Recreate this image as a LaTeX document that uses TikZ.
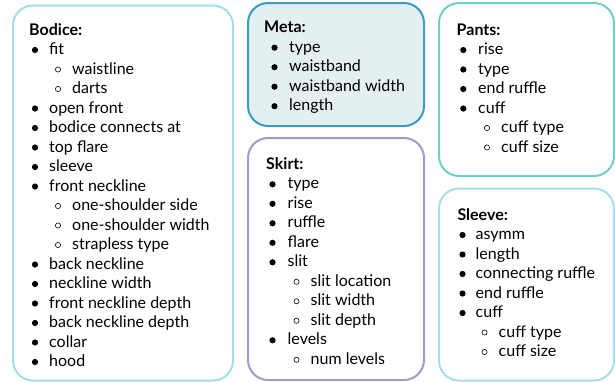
\documentclass[tikz,border=0pt]{standalone}
\usepackage{fontspec}
\setmainfont{Lato}
\definecolor{bodiceC}{HTML}{A2DEE9}
\definecolor{metaC}{HTML}{3A9DC1}
\definecolor{metaF}{HTML}{E3EFF1}
\definecolor{skirtC}{HTML}{A19BD0}
\definecolor{pantsC}{HTML}{70D0C3}
\definecolor{sleeveC}{HTML}{A4DFEA}
\tikzset{
  panel/.style={draw, line width=2pt, rounded corners=20pt, anchor=north west, inner sep=0pt},
  itemtxt/.style={anchor=base west, inner sep=0pt, font=\fontsize{16}{19}\selectfont},
  titletxt/.style={anchor=base west, inner sep=0pt, font=\fontsize{16}{19}\selectfont\bfseries},
  dotfull/.style={fill=black},
  dotopen/.style={draw=black, line width=0.6pt},
}
% #1 prefix, #2 title x, #3 title centre y, #4 bullet x, #5 text x, #6 title, #7 items (level/text)
\newcommand\panellist[7]{%
  \node[titletxt] (#1-t) at (#2,#3+4.5) {#6};
  \foreach \lev/\txt [count=\i] in {#7} {
    \pgfmathsetmacro\yy{#3+19.5*\i}
    \ifnum\lev=1
      \fill[dotfull] (#4,\yy) circle (3.1pt);
      \node[itemtxt] (#1-\i) at (#5,\yy+4.5) {\txt};
    \else
      \draw[dotopen] (#5+9,\yy) circle (2.6pt);
      \node[itemtxt] (#1-\i) at (#5+23,\yy+4.5) {\txt};
    \fi
  }%
}
\begin{document}
\begin{tikzpicture}[x=1pt,y=-1pt]
\useasboundingbox (0,0) rectangle (615,381);
\node[panel, draw=bodiceC, minimum width=220pt, minimum height=375pt] (bodice) at (12,4.5) {};
\node[panel, draw=metaC, fill=metaF, minimum width=176pt, minimum height=123pt] (meta) at (247,2) {};
\node[panel, draw=skirtC, minimum width=176pt, minimum height=242pt] (skirt) at (247,137) {};
\node[panel, draw=pantsC, minimum width=175pt, minimum height=173pt] (pants) at (438,2) {};
\node[panel, draw=sleeveC, minimum width=175pt, minimum height=192pt] (sleeve) at (438,187.5) {};

\panellist{bo}{29}{30.5}{35}{49}{Bodice:}{1/fit,2/waistline,2/darts,1/open front,1/bodice connects at,1/top flare,1/sleeve,1/front neckline,2/one-shoulder side,2/one-shoulder width,2/strapless type,1/back neckline,1/neckline width,1/front neckline depth,1/back neckline depth,1/collar,1/hood}
\panellist{me}{264}{28.2}{274.5}{289}{Meta:}{1/type,1/waistband,1/waistband width,1/length}
\panellist{sk}{266}{164.8}{272.5}{287.5}{Skirt:}{1/type,1/rise,1/ruffle,1/flare,1/slit,2/slit location,2/slit width,2/slit depth,1/levels,2/num levels}
\panellist{pa}{456.5}{30.5}{463.3}{478}{Pants:}{1/rise,1/type,1/end ruffle,1/cuff,2/cuff type,2/cuff size}
\panellist{sl}{457.3}{215.5}{462.5}{475.5}{Sleeve:}{1/asymm,1/length,1/connecting ruffle,1/end ruffle,1/cuff,2/cuff type,2/cuff size}
\end{tikzpicture}
\end{document}
